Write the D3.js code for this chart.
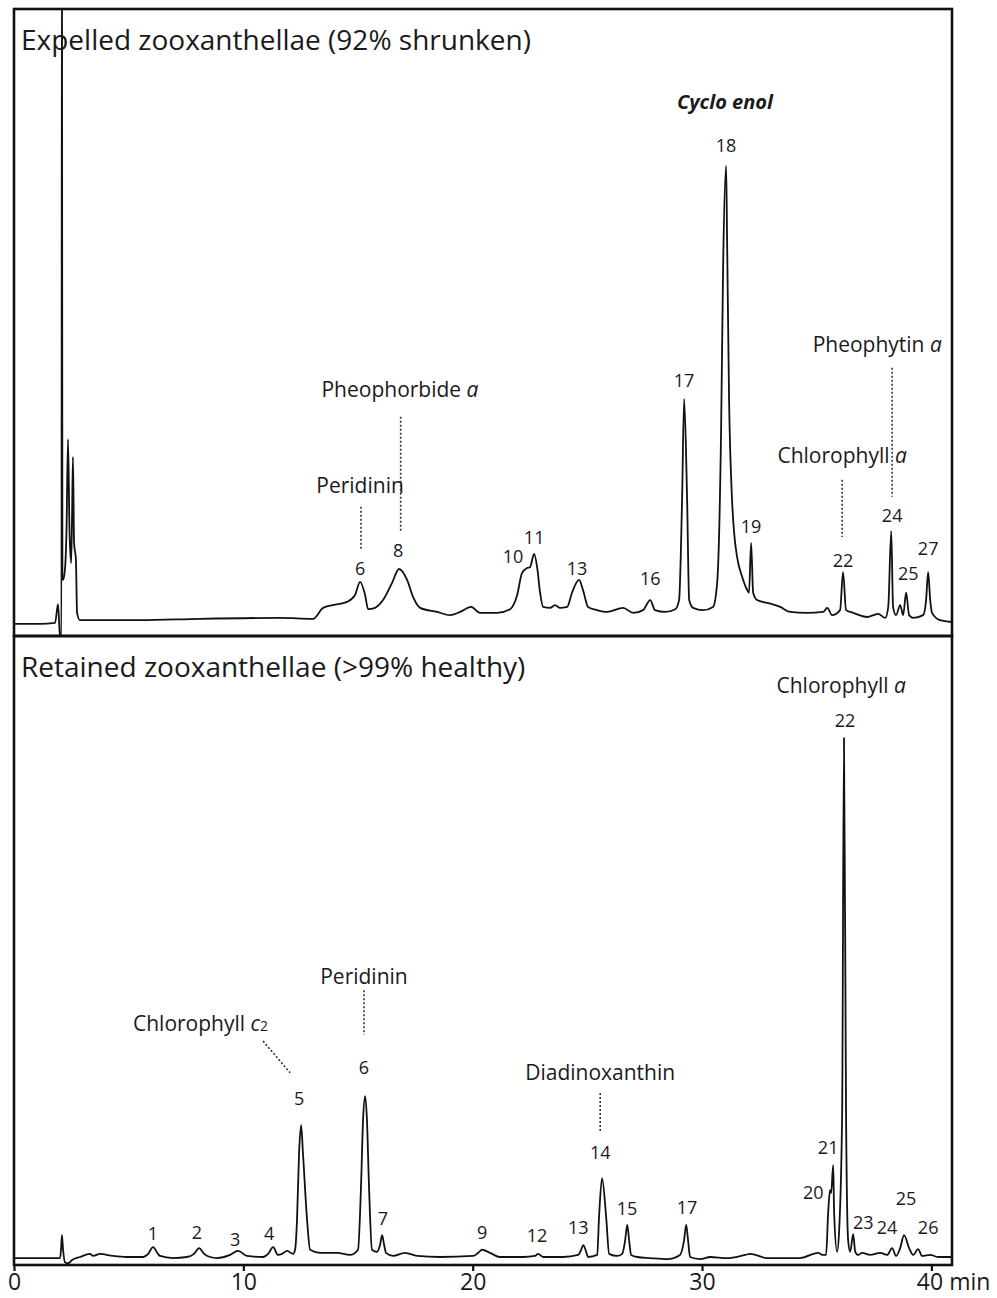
<!DOCTYPE html>
<html>
<head>
<meta charset="utf-8">
<script src="https://cdnjs.cloudflare.com/ajax/libs/d3/7.8.5/d3.min.js"></script>
<style>
body { margin: 0; background: #ffffff; }
text { font-family: "Open Sans", sans-serif; fill: #1a1a1a; }
</style>
</head>
<body>
<div id="my_dataviz"></div>
<script>
// chromatogram traces: [retention time (min), signal]
var topTrace = [[0,-0.4],[1.13,-0.4],[1.79,-0.2],[1.92,3.9],[2.01,-3.5],[2.07,-3.5],[2.09,160],[2.11,10],[2.14,9.2],[2.22,11.4],[2.29,20.1],[2.355,40.0],[2.42,20.1],[2.49,12.9],[2.53,22.3],[2.57,36.1],[2.62,17.3],[2.70,13.6],[2.75,2.0],[2.88,0.4],[5.49,0.4],[8.11,0.7],[11.6,0.9],[13.04,0.7],[13.48,3.1],[13.91,3.7],[14.52,4.4],[14.87,5.9],[15.09,8.8],[15.31,5.9],[15.44,2.8],[15.74,3.1],[16.09,4.8],[16.48,8.5],[16.79,11.6],[17.14,9.2],[17.40,5.5],[17.71,3.1],[18.45,2.2],[19.01,1.5],[19.45,2.2],[19.93,3.3],[20.32,2.0],[21.06,2.0],[21.63,2.8],[21.94,5.9],[22.15,10.7],[22.37,11.8],[22.50,12.0],[22.68,14.9],[22.81,12.0],[22.94,6.4],[23.07,3.3],[23.38,3.1],[23.59,3.7],[23.81,3.1],[24.12,3.3],[24.33,6.4],[24.64,9.2],[24.81,7.0],[25.03,3.3],[25.43,2.6],[25.86,2.2],[26.56,3.1],[27.0,2.0],[27.43,2.6],[27.74,4.8],[27.95,2.6],[28.39,2.2],[28.83,2.8],[29.0,4.8],[29.13,26.7],[29.22,48.8],[29.35,26.7],[29.44,4.8],[29.61,3.1],[30.05,2.6],[30.48,3.3],[30.66,8.5],[30.83,41.4],[30.92,77.7],[31.05,99.8],[31.09,85.1],[31.18,48.6],[31.31,26.7],[31.40,19.5],[31.53,14.2],[31.75,9.9],[31.97,7.0],[32.05,6.4],[32.14,17.3],[32.23,6.4],[32.40,4.8],[32.84,4.2],[33.41,3.3],[33.84,2.2],[34.58,2.0],[35.28,2.2],[35.46,3.1],[35.67,1.5],[36.02,2.6],[36.15,10.9],[36.28,2.6],[36.59,2.0],[37.2,1.1],[37.68,1.8],[37.99,0.9],[38.12,3.3],[38.25,19.9],[38.33,3.3],[38.46,1.5],[38.64,3.7],[38.77,1.5],[38.90,6.4],[39.03,1.5],[39.21,0.9],[39.64,1.5],[39.77,4.8],[39.86,10.9],[39.95,4.8],[40.03,2.0],[40.38,0.4],[40.9,0]];

var bottomTrace = [[0,-0.2],[2.01,-0.2],[2.05,1.4],[2.09,4.2],[2.14,1.4],[2.22,-1.0],[2.36,-1.2],[2.53,-0.6],[2.88,0],[3.31,0.6],[3.45,0.2],[3.75,0.6],[4.32,0.2],[4.93,0],[5.63,0],[5.85,0.6],[6.06,1.9],[6.28,0.6],[6.37,0.2],[6.93,-0.2],[7.54,0],[7.85,0.6],[8.07,1.7],[8.29,0.6],[8.55,0],[8.85,-0.2],[9.42,0.4],[9.77,1.2],[10.16,0.2],[10.86,0],[11.08,0.6],[11.30,1.9],[11.51,0.4],[11.69,0.6],[11.91,1.2],[12.17,0.6],[12.26,1.5],[12.34,7.1],[12.43,20.0],[12.52,25.4],[12.60,20.0],[12.78,7.1],[12.91,1.4],[13.35,0.8],[14.09,0.8],[14.65,0.4],[15.0,1.4],[15.13,13.5],[15.22,26.4],[15.31,31.0],[15.39,26.4],[15.48,13.5],[15.61,1.4],[15.83,1.0],[15.96,2.3],[16.05,4.2],[16.14,2.3],[16.22,0.8],[16.53,0.2],[17.05,0.8],[17.58,0.2],[18.58,0],[20.02,0.2],[20.24,0.8],[20.41,1.4],[20.76,0.8],[21.19,0],[22.2,0],[22.72,0.2],[22.85,0.6],[23.07,0],[23.94,0],[24.6,0.4],[24.73,1.4],[24.82,2.3],[24.95,1.0],[25.03,0],[25.43,0.4],[25.51,7.7],[25.64,15.2],[25.82,7.7],[25.95,0.6],[26.3,0.2],[26.52,0.6],[26.65,3.3],[26.74,6.2],[26.82,3.3],[26.91,0.4],[27.17,0],[27.74,-0.2],[28.48,-0.4],[29.04,0.4],[29.22,3.3],[29.31,6.2],[29.39,3.3],[29.48,0],[29.92,-0.4],[30.35,0],[31.09,-0.2],[31.88,0.4],[32.1,0.6],[32.84,-0.2],[34.28,-0.2],[35.06,0.8],[35.28,0.4],[35.41,0.4],[35.5,8.5],[35.58,12.9],[35.63,12.3],[35.72,17.7],[35.76,8.5],[35.89,1.0],[35.98,5.2],[36.11,27.7],[36.19,100],[36.28,27.7],[36.37,3.3],[36.46,1.0],[36.59,4.4],[36.68,1.0],[36.81,0.4],[36.98,0.8],[37.33,0.4],[37.77,0.8],[38.07,0.4],[38.29,1.7],[38.46,0.2],[38.64,1.7],[38.81,4.2],[39.03,1.7],[39.21,0.4],[39.42,1.5],[39.6,0.2],[39.95,0.4],[40.3,0],[40.9,0]];

var xTicks = [0, 10, 20, 30, 40];

// peak numbers: label, time, signal level of the label
var topPeaks = ["6","8","10","11","13","16","17","18","19","22","24","25","27"];
var topPeakTimes = [15.09,16.75,21.76,22.68,24.55,27.74,29.22,31.05,32.14,36.15,38.29,38.99,39.86];
var topPeakLevels = [10.3,14.2,12.9,17.1,10.3,8.1,51.4,102.8,19.5,12.0,21.9,9.2,14.7];

var bottomPeaks = ["1","2","3","4","5","6","7","9","12","13","14","15","17","20","21","22","23","24","25","26"];
var bottomPeakTimes = [6.06,7.98,9.64,11.12,12.43,15.26,16.09,20.41,22.81,24.6,25.56,26.73,29.35,34.85,35.5,36.24,37.03,38.07,38.9,39.86];
var bottomPeakLevels = [3.3,3.5,2.1,3.3,29.3,35.3,6.2,3.5,2.9,4.4,18.9,8.1,8.3,11.2,19.8,102.1,5.4,4.4,10.0,4.4];

// compound names with their leader lines [t, level from, level to]
var topCompounds = [
  {name: "Peridinin", it: "", t: 15.09, v: 28.2, lead: [15.13, 25.2, 15.8]},
  {name: "Pheophorbide ", it: "a", t: 16.83, v: 49.2, lead: [16.86, 44.9, 19.5]},
  {name: "Chlorophyll ", it: "a", t: 36.11, v: 34.8, lead: [36.11, 31.1, 18.6]},
  {name: "Pheophytin ", it: "a", t: 37.64, v: 59.1, lead: [38.29, 55.6, 27.4]}
];
var bottomCompounds = [
  {name: "Chlorophyll ", it: "a", t: 36.07, v: 108.7, lead: null},
  {name: "Peridinin", it: "", t: 15.26, v: 52.6, lead: [15.26, 51.4, 42.8]},
  {name: "Diadinoxanthin", it: "", t: 25.56, v: 34.1, lead: [25.56, 31.6, 24.1]}
];

// set the dimensions and margins of the graph
var margin = {top: 9, right: 45, bottom: 33, left: 14},
  width = 997 - margin.left - margin.right,
  topHeight = 627,
  bottomHeight = 629;

var svg = d3.select("#my_dataviz")
  .append("svg")
  .attr("width", 997)
  .attr("height", 1298)
  .append("g")
  .attr("transform", "translate(" + margin.left + "," + margin.top + ")");

var x = d3.scaleLinear().domain([0, 40.9]).range([0, width]);
var yTop = d3.scaleLinear().domain([-3.06, 134.1]).range([topHeight, 0]);
var yBottom = d3.scaleLinear().domain([-1.54, 119.65]).range([bottomHeight, 0]);

function drawPanel(g, h, y, trace, clipId, title, peaks, peakTimes, peakLevels, compounds) {
  g.append("clipPath").attr("id", clipId)
    .append("rect").attr("width", width).attr("height", h);

  // the trace
  g.append("path")
    .datum(trace)
    .attr("clip-path", "url(#" + clipId + ")")
    .attr("fill", "none")
    .attr("stroke", "#111")
    .attr("stroke-width", 1.8)
    .attr("stroke-linejoin", "round")
    .attr("d", d3.line()
      .x(function (d) { return x(d[0]) })
      .y(function (d) { return y(d[1]) })
      .curve(d3.curveMonotoneX));

  // frame
  g.append("rect")
    .attr("width", width)
    .attr("height", h)
    .attr("fill", "none")
    .attr("stroke", "#111")
    .attr("stroke-width", 2.6);

  g.append("text")
    .attr("x", 7)
    .attr("y", 41)
    .style("font-size", "28px")
    .text(title);

  // peak numbers
  g.selectAll(".peak")
    .data(peaks)
    .enter()
    .append("text")
    .attr("class", "peak")
    .attr("x", function (d, i) { return x(peakTimes[i]) })
    .attr("y", function (d, i) { return y(peakLevels[i]) })
    .attr("text-anchor", "middle")
    .style("font-size", "18px")
    .text(function (d) { return d });

  // compound names
  compounds.forEach(function (c) {
    var t = g.append("text")
      .attr("x", x(c.t))
      .attr("y", y(c.v))
      .attr("text-anchor", "middle")
      .style("font-size", "21px");
    t.append("tspan").text(c.name);
    if (c.it) t.append("tspan").style("font-style", "italic").text(c.it);
    if (c.lead) {
      g.append("line")
        .attr("x1", x(c.lead[0])).attr("x2", x(c.lead[0]))
        .attr("y1", y(c.lead[1])).attr("y2", y(c.lead[2]))
        .attr("stroke", "#333")
        .attr("stroke-width", 1.6)
        .attr("stroke-dasharray", "2,2");
    }
  });
}

var gTop = svg.append("g");
drawPanel(gTop, topHeight, yTop, topTrace, "clipTop", "Expelled zooxanthellae (92% shrunken)",
  topPeaks, topPeakTimes, topPeakLevels, topCompounds);

gTop.append("text")
  .attr("x", x(31.0))
  .attr("y", yTop(112.3))
  .attr("text-anchor", "middle")
  .style("font-size", "20px")
  .style("font-weight", "bold")
  .style("font-style", "italic")
  .text("Cyclo enol");

var gBottom = svg.append("g").attr("transform", "translate(0," + topHeight + ")");
drawPanel(gBottom, bottomHeight, yBottom, bottomTrace, "clipBottom", "Retained zooxanthellae (>99% healthy)",
  bottomPeaks, bottomPeakTimes, bottomPeakLevels, bottomCompounds);

// Chlorophyll c2 with its slanted leader
var c2 = gBottom.append("text")
  .attr("x", x(11.08))
  .attr("y", yBottom(43.5))
  .attr("text-anchor", "end")
  .style("font-size", "21px");
c2.append("tspan").text("Chlorophyll ");
c2.append("tspan").style("font-style", "italic").text("c");
c2.append("tspan").style("font-size", "14px").text("2");

gBottom.append("line")
  .attr("x1", x(10.86)).attr("y1", yBottom(41.6))
  .attr("x2", x(12.04)).attr("y2", yBottom(35.5))
  .attr("stroke", "#333")
  .attr("stroke-width", 1.6)
  .attr("stroke-dasharray", "2,2");

// Add X axis
var xAxis = svg.append("g")
  .attr("transform", "translate(0," + (topHeight + bottomHeight) + ")")
  .call(d3.axisBottom(x)
    .tickValues(xTicks)
    .tickSize(6)
    .tickPadding(3)
    .tickFormat(function (d) { return d === 40 ? "40 min" : d; }));
xAxis.select(".domain").remove();
xAxis.selectAll(".tick line").attr("stroke", "#111").attr("stroke-width", 2.2);
xAxis.selectAll(".tick text")
  .style("font-family", "'Open Sans', sans-serif")
  .style("font-size", "23px")
  .attr("fill", "#1a1a1a");
xAxis.selectAll(".tick text")
  .filter(function (d) { return d === 40; })
  .attr("text-anchor", "start")
  .attr("x", -15);
</script>
</body>
</html>
